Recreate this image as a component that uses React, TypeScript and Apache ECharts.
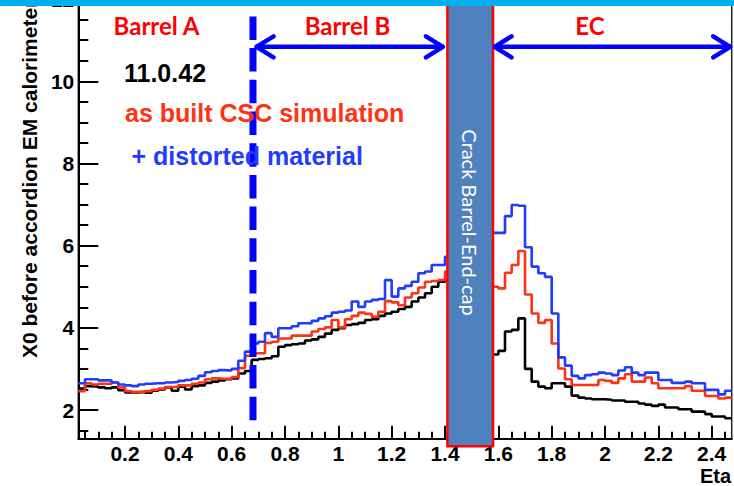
import { useEffect, useRef } from "react";
import * as echarts from "echarts";

// Histogram binning (eta)
const binWidth = 0.025;
const barrelStart = 0.025;
const endcapStart = 1.575;

// X0 before accordion, barrel bins 0.025 .. 1.425
const blackBarrel = [
  2.52, 2.58, 2.57, 2.55, 2.53, 2.55, 2.48, 2.43, 2.43, 2.44, 2.42, 2.47, 2.5, 2.55, 2.47, 2.57,
  2.5, 2.58, 2.6, 2.66, 2.69, 2.72, 2.75, 2.77, 2.89, 2.95, 3.22, 3.24, 3.26, 3.31, 3.54, 3.58,
  3.6, 3.62, 3.69, 3.72, 3.78, 3.86, 3.95, 3.99, 4.07, 4.09, 4.12, 4.19, 4.21, 4.29, 4.35, 4.39,
  4.46, 4.51, 4.64, 4.74, 4.84, 5.0, 5.12, 5.16,
];
const redBarrel = [
  2.46, 2.65, 2.62, 2.64, 2.64, 2.67, 2.55, 2.46, 2.44, 2.44, 2.46, 2.49, 2.52, 2.56, 2.56, 2.6,
  2.6, 2.64, 2.67, 2.75, 2.77, 2.76, 2.76, 2.8, 3.02, 3.32, 3.38, 3.38, 3.63, 3.66, 3.74, 3.74,
  3.81, 3.81, 3.81, 3.91, 3.97, 4.01, 4.19, 4.01, 4.21, 4.29, 4.37, 4.34, 4.27, 4.39, 4.65, 4.62,
  4.55, 4.74, 4.84, 4.98, 5.12, 5.14, 5.16, 5.37,
];
const blueBarrel = [
  2.65, 2.75, 2.75, 2.72, 2.72, 2.67, 2.62, 2.6, 2.58, 2.62, 2.64, 2.65, 2.65, 2.67, 2.68, 2.71,
  2.73, 2.76, 2.83, 2.92, 2.95, 2.97, 2.96, 3.0, 3.2, 3.42, 3.62, 3.66, 3.87, 3.78, 3.99, 3.99,
  4.04, 4.11, 4.11, 4.17, 4.23, 4.28, 4.37, 4.39, 4.42, 4.64, 4.51, 4.64, 4.68, 4.7, 5.16, 4.76,
  4.96, 5.02, 5.12, 5.33, 5.37, 5.53, 5.53, 5.73,
];

// End-cap bins 1.575 .. 2.475
const blackEndcap = [
  3.35, 3.44, 3.91, 3.95, 4.23, 3.0, 2.69, 2.57, 2.53, 2.65, 2.65, 2.57, 2.35, 2.3, 2.28, 2.26,
  2.26, 2.25, 2.23, 2.23, 2.2, 2.2, 2.16, 2.13, 2.1, 2.13, 2.06, 2.06, 2.02, 2.02, 1.96, 1.96,
  1.9, 1.84, 1.84, 1.8,
];
const redEndcap = [
  5.0, 4.96, 5.34, 5.53, 5.87, 4.81, 4.35, 4.12, 4.19, 3.62, 3.01, 2.75, 2.61, 2.61, 2.61, 2.61,
  2.73, 2.71, 2.66, 2.77, 2.87, 2.69, 2.69, 2.79, 2.65, 2.53, 2.53, 2.53, 2.53, 2.58, 2.47, 2.47,
  2.34, 2.34, 2.28, 2.3,
];
const blueEndcap = [
  6.31, 6.31, 6.72, 6.99, 6.97, 5.96, 5.49, 5.33, 5.24, 4.35, 3.28, 3.08, 2.83, 2.77, 2.85, 2.87,
  2.91, 2.89, 2.85, 2.96, 3.04, 2.91, 2.85, 2.91, 2.91, 2.73, 2.73, 2.66, 2.66, 2.69, 2.65, 2.65,
  2.49, 2.49, 2.38, 2.47,
];

// Axis ticks
const xMajorTicks = [0.2, 0.4, 0.6, 0.8, 1, 1.2, 1.4, 1.6, 1.8, 2, 2.2, 2.4];
const yMajorTicks = [2, 4, 6, 8, 10, 12];

const xMin = 0.025;
const xMax = 2.475;
const yMin = 1.3;
const yMax = 12.5;

// Detector regions
const barrelSplitEta = 0.68;
const crackLoEta = 1.409;
const crackHiEta = 1.58;
const arrowLevel = 10.84;

const BLACK = "#000000";
const RED = "#ff3214";
const BLUE = "#1f3cff";
const PURE_RED = "#ff0000";
const PURE_BLUE = "#0000ff";
const ARIAL = "'Liberation Sans', Arial, Helvetica, sans-serif";
const SLIDE = "Lato, 'Open Sans', sans-serif";

function minorValues(from: number, to: number, step: number, majors: number[]) {
  const out: number[] = [];
  for (let v = from; v <= to + 1e-9; v += step) {
    const r = Math.round(v * 1000) / 1000;
    if (!majors.some((m) => Math.abs(m - r) < 1e-6)) out.push(r);
  }
  return out;
}

function histPoints(start: number, values: number[]) {
  const pts = values.map((v, i) => [Math.round((start + i * binWidth) * 1000) / 1000, v]);
  pts.push([Math.round((start + values.length * binWidth) * 1000) / 1000, values[values.length - 1]]);
  return pts;
}

function histSeries(start: number, values: number[], color: string, z: number) {
  return {
    type: "line",
    step: "end",
    data: histPoints(start, values),
    showSymbol: false,
    symbol: "none",
    clip: true,
    z,
    lineStyle: { color, width: 2.6 },
    silent: true,
  };
}

function doubleArrow(x1: number, x2: number, y: number, color: string) {
  const w = 4.5;
  const head = 18;
  const half = 10.5;
  const common = { stroke: color, lineWidth: w, lineCap: "round", lineJoin: "round", fill: "none" };
  return [
    { type: "line", z: 20, shape: { x1, y1: y, x2, y2: y }, style: { ...common, lineCap: "butt" } },
    {
      type: "polyline",
      z: 20,
      shape: { points: [[x1 + head, y - half], [x1 + 1, y], [x1 + head, y + half]] },
      style: common,
    },
    {
      type: "polyline",
      z: 20,
      shape: { points: [[x2 - head, y - half], [x2 - 1, y], [x2 - head, y + half]] },
      style: common,
    },
  ];
}

export default function App() {
  const ref = useRef<HTMLDivElement>(null);

  useEffect(() => {
    if (!ref.current) return;
    const chart = echarts.init(ref.current, undefined, { renderer: "svg" });

    const axisLine = { show: true, lineStyle: { color: BLACK, width: 2 } };
    const tickStyle = { color: BLACK, width: 2 };
    const labelStyle = { color: BLACK, fontSize: 21, fontWeight: "bold", fontFamily: ARIAL };

    chart.setOption({
      animation: false,
      grid: {
        left: 78.3,
        right: 2.3,
        top: -21.4,
        bottom: 47.24,
        show: true,
        borderColor: "#222222",
        borderWidth: 1.5,
        backgroundColor: "transparent",
        containLabel: false,
        outerBoundsMode: "none",
      },
      xAxis: [
        {
          type: "value",
          min: xMin,
          max: xMax,
          position: "bottom",
          axisLine,
          axisTick: { show: true, inside: true, length: 13, lineStyle: tickStyle, customValues: xMajorTicks },
          axisLabel: { ...labelStyle, margin: 4, customValues: xMajorTicks },
          splitLine: { show: false },
        },
        {
          type: "value",
          min: xMin,
          max: xMax,
          position: "bottom",
          axisLine: { show: false },
          axisTick: {
            show: true,
            inside: true,
            length: 7,
            lineStyle: tickStyle,
            customValues: minorValues(0.05, 2.45, 0.05, xMajorTicks),
          },
          axisLabel: { show: false },
          splitLine: { show: false },
        },
      ],
      yAxis: [
        {
          type: "value",
          min: yMin,
          max: yMax,
          position: "left",
          axisLine,
          axisTick: { show: true, inside: true, length: 20, lineStyle: tickStyle, customValues: yMajorTicks },
          axisLabel: { ...labelStyle, margin: 4, customValues: yMajorTicks },
          splitLine: { show: false },
        },
        {
          type: "value",
          min: yMin,
          max: yMax,
          position: "left",
          axisLine: { show: false },
          axisTick: {
            show: true,
            inside: true,
            length: 10,
            lineStyle: tickStyle,
            customValues: minorValues(1.5, 12.5, 0.5, yMajorTicks),
          },
          axisLabel: { show: false },
          splitLine: { show: false },
        },
      ],
      series: [
        histSeries(barrelStart, blackBarrel, BLACK, 2),
        histSeries(endcapStart, blackEndcap, BLACK, 2),
        histSeries(barrelStart, redBarrel, RED, 3),
        histSeries(endcapStart, redEndcap, RED, 3),
        histSeries(barrelStart, blueBarrel, BLUE, 4),
        histSeries(endcapStart, blueEndcap, BLUE, 4),
      ],
    });

    const toPx = (x: number, y: number) =>
      chart.convertToPixel({ xAxisIndex: 0, yAxisIndex: 0 }, [x, y]) as number[];

    const [xSplit] = toPx(barrelSplitEta, yMin);
    const [xLo, yAxisBottom] = toPx(crackLoEta, yMin);
    const [xHi] = toPx(crackHiEta, yMin);
    const [xRight] = toPx(xMax, yMin);
    const [, yArrow] = toPx(xMin, arrowLevel);
    const [, yDashTop] = toPx(xMin, 11.58);
    const [, yDashBottom] = toPx(xMin, 1.71);

    const text = (
      t: string,
      x: number,
      y: number,
      fill: string,
      size: number,
      family: string,
      align: string,
      weight = "bold",
      rotation = 0
    ) => ({
      type: "text",
      x,
      y,
      rotation,
      z: 30,
      style: {
        text: t,
        fill,
        fontSize: size,
        fontWeight: weight,
        fontFamily: family,
        align,
        verticalAlign: "middle",
      },
    });

    chart.setOption({
      graphic: [
        {
          type: "rect",
          z: 15,
          shape: { x: xLo, y: -5, width: xHi - xLo, height: yAxisBottom + 7.5 + 5 },
          style: { fill: "#4f81bd", stroke: PURE_RED, lineWidth: 2.5 },
        },
        text("Crack Barrel-End-cap", (xLo + xHi) / 2, 222.5, "#ffffff", 20, SLIDE, "center", "normal", -Math.PI / 2),
        {
          type: "line",
          z: 18,
          shape: { x1: xSplit, y1: yDashTop, x2: xSplit, y2: yDashBottom },
          style: { stroke: PURE_BLUE, lineWidth: 7, lineDash: [23.5, 8.2] },
        },
        ...doubleArrow(xSplit + 2.5, xLo - 3.5, yArrow, PURE_BLUE),
        ...doubleArrow(xHi + 0.5, xRight - 0.5, yArrow, PURE_BLUE),
        text("Barrel A", 156.5, 25, PURE_RED, 24, SLIDE, "center"),
        text("Barrel B", 347.5, 25, PURE_RED, 24, SLIDE, "center"),
        text("EC", 590, 25, PURE_RED, 24, SLIDE, "center"),
        text("11.0.42", 124, 73, BLACK, 25, ARIAL, "left"),
        text("as built CSC simulation", 125, 113, RED, 25, ARIAL, "left"),
        text("+ distorted material", 131.5, 156.3, BLUE, 25, ARIAL, "left"),
        text("X0 before accordion EM calorimeter", 29, 358, BLACK, 21, ARIAL, "left", "bold", Math.PI / 2),
        text("Eta", 731, 476, BLACK, 20, ARIAL, "right"),
        {
          type: "rect",
          z: 40,
          shape: { x: 0, y: 0, width: 734, height: 6 },
          style: { fill: "#00b0f0" },
        },
      ],
    });

    return () => chart.dispose();
  }, []);

  return (
    <div
      ref={ref}
      style={{ position: "fixed", left: 0, top: 0, width: 734, height: 486, background: "#ffffff" }}
    />
  );
}
